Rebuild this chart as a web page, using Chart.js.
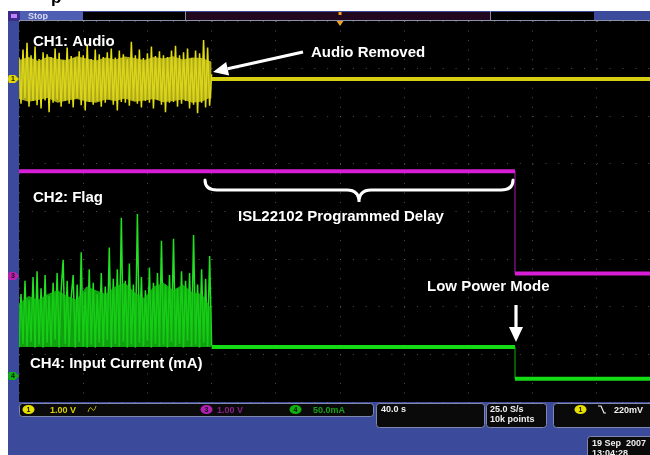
<!DOCTYPE html>
<html><head><meta charset="utf-8">
<script src="https://cdn.jsdelivr.net/npm/chart.js@4/dist/chart.umd.min.js"></script>
<style>html,body{margin:0;padding:0;background:#fff;overflow:hidden}#wrap{width:650px;height:455px;position:relative}canvas{display:block}</style>
</head><body><div id="wrap"><canvas id="c" width="650" height="455"></canvas></div>
<script>
// ---- time base (seconds, 40 s/div, trigger at 0) ----
const burstStart = -200, burstStep = 1.25, coreStep = 6;
const timeTicks = [-200, -160, -120, -80, -40, 0, 40, 80, 120, 160];
const divTicks = [-4, -3, -2, -1, 0, 1, 2, 3, 4];

// ---- CH1 audio (V) during the burst ----
const ch1Burst = [
 0.45,-0.52,0.62,-0.40,0.76,-0.58,0.50,-0.46,0.68,-0.55,
 0.42,-0.62,0.56,-0.45,0.52,-0.70,0.46,-0.50,0.64,-0.43,
 0.55,-0.58,0.40,-0.46,0.66,-0.52,0.48,-0.60,0.44,-0.40,
 0.58,-0.55,0.50,-0.66,0.72,-0.48,0.42,-0.54,0.62,-0.46,
 0.52,-0.58,0.46,-0.50,0.56,-0.42,0.64,-0.54,0.45,-0.66,
 0.60,-0.48,0.52,-0.50,0.42,-0.56,0.78,-0.45,0.50,-0.52,
 0.62,-0.60,0.44,-0.46,0.54,-0.50,0.68,-0.62,0.48,-0.44,
 0.58,-0.54,0.50,-0.70,0.46,-0.50,0.60,-0.48,0.70,-0.58,
 0.50,-0.52,0.56,-0.46,0.64,-0.62,0.44,-0.54,0.60,-0.72,
 0.54,-0.50,0.82,-0.60,0.66,-0.56,0.10];
// dense core envelope of the burst (V)
const ch1CoreUp  = [0.40,0.46,0.38,0.47,0.42,0.40,0.48,0.43,0.39,0.45,0.41,0.47,0.44,0.40,0.46,0.43,0.48,0.41,0.45,0.44,0.36];
const ch1CoreLow = [-0.42,-0.48,-0.44,-0.40,-0.50,-0.45,-0.42,-0.47,-0.50,-0.43,-0.46,-0.41,-0.48,-0.45,-0.42,-0.49,-0.46,-0.43,-0.50,-0.47,-0.38];
const ch1AfterTimes = [-80, 193.1];
const ch1AfterLevels = [0.0, 0.0];

// ---- CH2 flag (V) ----
const ch2Times = [-200, 109, 109, 193.1];
const ch2Levels = [2.2, 2.2, 0.05, 0.05];

// ---- CH4 input current (mA) during the burst ----
const ch4Burst = [
 30,86,34,100,31,80,36,104,30,110,
 33,92,30,106,35,84,31,98,38,108,
 30,90,122,34,100,31,82,106,30,96,
 36,130,31,88,30,112,33,98,30,86,
 35,108,31,94,38,135,30,102,34,112,
 31,166,36,100,30,118,33,96,30,170,
 35,104,31,90,37,114,30,98,34,108,
 31,142,33,96,30,106,36,144,31,92,
 34,110,30,100,37,108,31,148,33,96,
 30,112,35,102,31,126,32];
// dense core top of the current burst (mA), filled down to the idle level
const ch4CoreTop = [76,84,80,86,90,84,80,94,90,86,94,98,88,82,94,98,90,96,88,86,70];
const ch4Idle = 30.5;
const ch4Times = [-80, 109, 109, 193.1];
const ch4Levels = [30.5, 30.5, -3, -3];

const burstTimes = ch1Burst.map((_, i) => burstStart + i * burstStep);
const coreTimes = ch1CoreUp.map((_, i) => burstStart + i * coreStep);
const pts = (xs, ys) => xs.map((x, i) => ({x: x, y: ys[i]}));

function rr(ctx, x, y, w, h, r) {
  ctx.beginPath();
  ctx.moveTo(x + r, y); ctx.lineTo(x + w - r, y); ctx.quadraticCurveTo(x + w, y, x + w, y + r);
  ctx.lineTo(x + w, y + h - r); ctx.quadraticCurveTo(x + w, y + h, x + w - r, y + h);
  ctx.lineTo(x + r, y + h); ctx.quadraticCurveTo(x, y + h, x, y + h - r);
  ctx.lineTo(x, y + r); ctx.quadraticCurveTo(x, y, x + r, y); ctx.closePath();
}
function badge(ctx, cx, cy, fill, label, w) {
  ctx.save();
  ctx.fillStyle = fill;
  ctx.beginPath(); ctx.ellipse(cx, cy, w / 2, 4.5, 0, 0, Math.PI * 2); ctx.fill();
  ctx.fillStyle = '#111'; ctx.font = 'bold 7px "Liberation Sans"';
  ctx.textAlign = 'center'; ctx.textBaseline = 'middle'; ctx.fillText(label, cx, cy + 0.5);
  ctx.restore();
}
function sideMarker(ctx, y, fill, label) {
  ctx.save();
  ctx.fillStyle = fill;
  ctx.beginPath();
  ctx.moveTo(9, y - 4); ctx.lineTo(15, y - 4); ctx.lineTo(19, y); ctx.lineTo(15, y + 4); ctx.lineTo(9, y + 4);
  ctx.quadraticCurveTo(7, y, 9, y - 4); ctx.closePath(); ctx.fill();
  ctx.fillStyle = '#111'; ctx.font = 'bold 7px "Liberation Sans"';
  ctx.textAlign = 'center'; ctx.textBaseline = 'middle'; ctx.fillText(label, 13, y + 0.5);
  ctx.restore();
}
function arrow(ctx, x1, y1, x2, y2) {
  const a = Math.atan2(y2 - y1, x2 - x1), L = 15, W = 7;
  const bx = x2 - L * Math.cos(a), by = y2 - L * Math.sin(a);
  ctx.strokeStyle = '#fff'; ctx.lineWidth = 3.2;
  ctx.beginPath(); ctx.moveTo(x1, y1); ctx.lineTo(bx, by); ctx.stroke();
  ctx.fillStyle = '#fff';
  ctx.beginPath(); ctx.moveTo(x2, y2);
  ctx.lineTo(bx + W * Math.sin(a), by - W * Math.cos(a));
  ctx.lineTo(bx - W * Math.sin(a), by + W * Math.cos(a)); ctx.closePath(); ctx.fill();
}

const scopePlugin = {
  id: 'scope',
  beforeDraw(chart) {
    const ctx = chart.ctx, ca = chart.chartArea;
    ctx.save();
    ctx.fillStyle = '#fff'; ctx.fillRect(0, 0, 650, 455);
    ctx.fillStyle = '#000'; ctx.font = 'bold 17px "Liberation Sans"'; ctx.fillText('p', 51, 3);
    ctx.fillStyle = '#3c4a9c'; ctx.fillRect(8, 11, 642, 444);
    ctx.fillStyle = '#000'; ctx.fillRect(ca.left, ca.top, ca.right - ca.left, ca.bottom - ca.top);
    // top status bar
    ctx.fillStyle = '#000'; ctx.fillRect(83, 12, 567, 8);
    ctx.fillStyle = '#4e5eb2'; ctx.fillRect(8, 11, 75, 10);
    ctx.fillStyle = '#3a2c88'; ctx.fillRect(8, 11, 12, 10);
    ctx.fillStyle = '#c080ff'; ctx.fillRect(11, 14, 6, 4);
    ctx.fillStyle = '#22081e'; ctx.fillRect(185, 12, 305, 8);
    ctx.fillStyle = '#8a8aa0'; ctx.fillRect(185, 11, 1, 10); ctx.fillRect(490, 11, 1, 10);
    ctx.fillStyle = '#3c4a9c'; ctx.fillRect(594, 11, 56, 10);
    ctx.fillStyle = '#dcdcf0'; ctx.font = 'bold 9px "Liberation Sans"'; ctx.fillText('Stop', 28, 19);
    ctx.fillStyle = '#8c90a8'; ctx.fillRect(ca.left, 20, ca.right - ca.left, 1);
    ctx.restore();
  },
  afterDraw(chart) {
    const ctx = chart.ctx, s = chart.scales;
    ctx.save();
    // trigger position marker
    const tx = s.x.getPixelForValue(0);
    ctx.fillStyle = '#f0a020';
    ctx.beginPath(); ctx.moveTo(tx - 3.5, 21); ctx.lineTo(tx + 3.5, 21); ctx.lineTo(tx, 26); ctx.closePath(); ctx.fill();
    ctx.fillRect(tx - 1.5, 12, 3, 3);
    // channel ground markers
    sideMarker(ctx, s.y1.getPixelForValue(0), '#e0d800', '1');
    sideMarker(ctx, s.y2.getPixelForValue(0), '#c020b0', '3');
    sideMarker(ctx, s.y4.getPixelForValue(0), '#10b010', '4');
    // annotations
    ctx.fillStyle = '#fff'; ctx.font = 'bold 15px "Liberation Sans"';
    ctx.fillText('CH1: Audio', 33, 46);
    ctx.fillText('Audio Removed', 311, 56.5);
    ctx.fillText('CH2: Flag', 33, 202);
    ctx.fillText('ISL22102 Programmed Delay', 238, 220.5);
    ctx.fillText('Low Power Mode', 427, 291);
    ctx.fillText('CH4: Input Current (mA)', 30, 368);
    arrow(ctx, 303, 52, 213, 72);
    arrow(ctx, 516, 305, 516, 342);
    // brace
    ctx.strokeStyle = '#fff'; ctx.lineWidth = 3; ctx.lineCap = 'round';
    ctx.beginPath();
    ctx.moveTo(205, 180); ctx.quadraticCurveTo(205, 190, 217, 190);
    ctx.lineTo(347, 190); ctx.quadraticCurveTo(359, 190, 359, 202);
    ctx.quadraticCurveTo(359, 190, 371, 190);
    ctx.lineTo(501, 190); ctx.quadraticCurveTo(513, 190, 513, 180);
    ctx.stroke();
    // bottom readouts
    ctx.lineWidth = 1; ctx.lineCap = 'butt';
    const box = (x, y, w, h) => { rr(ctx, x + 0.5, y + 0.5, w, h, 3); ctx.fillStyle = '#0a0a0a'; ctx.fill(); ctx.strokeStyle = '#8088b0'; ctx.stroke(); };
    box(19, 403, 354, 13);
    box(376, 403, 108, 24);
    box(486, 403, 60, 24);
    box(553, 403, 100, 24);
    box(587, 436, 66, 22);
    badge(ctx, 28.5, 409.5, '#e8e000', '1', 12);
    badge(ctx, 206.5, 409.5, '#b020b0', '3', 12);
    badge(ctx, 295.5, 409.5, '#10b010', '4', 12);
    badge(ctx, 580.5, 409.5, '#e8e000', '1', 12);
    ctx.font = 'bold 9px "Liberation Sans"';
    ctx.fillStyle = '#d8d000'; ctx.fillText('1.00 V', 50, 413);
    ctx.strokeStyle = '#b0a800'; ctx.lineWidth = 1;
    ctx.beginPath(); ctx.moveTo(88, 412); ctx.quadraticCurveTo(90, 405, 92, 409); ctx.quadraticCurveTo(94, 413, 96, 406); ctx.stroke();
    ctx.fillStyle = '#8a1e8a'; ctx.fillText('1.00 V', 217, 413);
    ctx.fillStyle = '#18a018'; ctx.fillText('50.0mA', 313, 413);
    ctx.fillStyle = '#f0f0f0';
    ctx.fillText('40.0 s', 381, 412);
    ctx.fillText('25.0 S/s', 490, 412);
    ctx.fillText('10k points', 490, 422);
    ctx.strokeStyle = '#f0f0f0'; ctx.lineWidth = 1.2;
    ctx.beginPath(); ctx.moveTo(598, 406); ctx.lineTo(601, 406); ctx.lineTo(604, 413); ctx.lineTo(606, 413); ctx.stroke();
    ctx.fillText('220mV', 614, 413);
    ctx.fillText('19 Sep  2007', 592, 446);
    ctx.fillText('13:04:28', 592, 456);
    ctx.restore();
  }
};

const stepSeg = c => ({
  borderColor: ctx => ctx.p0.parsed.x === ctx.p1.parsed.x ? c : undefined,
  borderWidth: ctx => ctx.p0.parsed.x === ctx.p1.parsed.x ? 1 : undefined
});

new Chart(document.getElementById('c'), {
  type: 'line',
  data: {
    datasets: [
      {label: 'CH1 core up', yAxisID: 'y1', data: pts(coreTimes, ch1CoreUp), borderWidth: 0, borderColor: 'rgba(0,0,0,0)',
        backgroundColor: 'rgba(215,210,30,0.8)', fill: '+1'},
      {label: 'CH1 core low', yAxisID: 'y1', data: pts(coreTimes, ch1CoreLow), borderWidth: 0, borderColor: 'rgba(0,0,0,0)'},
      {label: 'CH1 burst', yAxisID: 'y1', data: pts(burstTimes, ch1Burst), borderColor: '#e4de10', borderWidth: 1.5},
      {label: 'CH1', yAxisID: 'y1', data: pts(ch1AfterTimes, ch1AfterLevels), borderColor: 'rgba(225,218,20,0.95)', borderWidth: 4},
      {label: 'CH2', yAxisID: 'y2', data: pts(ch2Times, ch2Levels), borderColor: '#d61ed6', borderWidth: 4,
        segment: stepSeg('rgba(200,30,200,0.35)')},
      {label: 'CH4 core', yAxisID: 'y4', data: pts(coreTimes, ch4CoreTop), borderWidth: 0, borderColor: 'rgba(0,0,0,0)',
        backgroundColor: 'rgba(20,200,20,0.8)', fill: {value: ch4Idle}},
      {label: 'CH4 burst', yAxisID: 'y4', data: pts(burstTimes, ch4Burst), borderColor: '#22e022', borderWidth: 1.5},
      {label: 'CH4', yAxisID: 'y4', data: pts(ch4Times, ch4Levels), borderColor: '#14dc14', borderWidth: 4,
        segment: stepSeg('rgba(20,200,20,0.35)')}
    ]
  },
  options: {
    responsive: false, animation: false, devicePixelRatio: 1,
    layout: {padding: {left: 19, top: 21, right: 0, bottom: 53}},
    elements: {point: {radius: 0}, line: {tension: 0}},
    plugins: {legend: {display: false}, tooltip: {enabled: false}, filler: {propagate: false}},
    scales: {
      x: {type: 'linear', min: -200, max: 193.1,
        afterBuildTicks: sc => { sc.ticks = timeTicks.map(v => ({value: v})); },
        ticks: {display: false}, grid: {color: 'rgba(130,130,130,0.6)', drawTicks: false, lineWidth: 1},
        border: {display: false, dash: [1, 8.525]}},
      gy: {type: 'linear', position: 'left', min: -4, max: 4,
        afterBuildTicks: sc => { sc.ticks = divTicks.map(v => ({value: v})); },
        ticks: {display: false}, grid: {color: 'rgba(130,130,130,0.6)', drawTicks: false, lineWidth: 1},
        border: {display: false, dash: [1, 11.84]}},
      y1: {display: false, min: -6.782, max: 1.218},
      y2: {display: false, min: -2.646, max: 5.354},
      y4: {display: false, min: -27.3, max: 372.7}
    }
  },
  plugins: [scopePlugin]
});
</script>
</body></html>
